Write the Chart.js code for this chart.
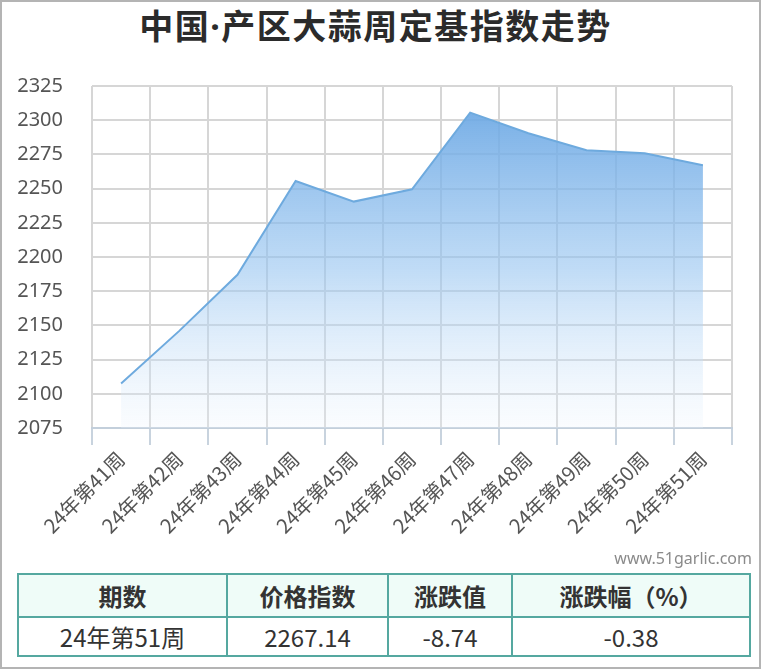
<!DOCTYPE html>
<html><head><meta charset="utf-8">
<script src="https://cdn.jsdelivr.net/npm/chart.js@4.4.1/dist/chart.umd.min.js"></script>
<style>
html,body{margin:0;padding:0;background:#fff;}
#wrap{position:relative;width:761px;height:669px;box-sizing:border-box;border:2px solid #b4b4b4;overflow:hidden;font-family:"Noto Sans CJK SC","Noto Sans",sans-serif;}
#title{position:absolute;left:0;top:-2px;width:747px;text-align:center;font-size:34px;font-weight:bold;letter-spacing:1.5px;color:#2b2b2b;}
#title .dot{font-family:"Noto Sans",sans-serif;}
#cv{position:absolute;left:-2px;top:-2px;}
#wm{position:absolute;right:7px;top:545px;font-size:16px;color:#8a8a8a;font-family:"Noto Sans",sans-serif;}
table{position:absolute;left:15px;top:571px;border-collapse:collapse;}
td{border:2px solid #55a8a0;text-align:center;color:#333;font-size:24px;padding:0;}
tr.h td{background:#effcf8;font-weight:bold;height:41px;}
tr.d td{height:37px;}
</style></head>
<body><div id="wrap">
<div id="title">中国<span class="dot">·</span>产区大蒜周定基指数走势</div>
<canvas id="cv" width="761" height="560"></canvas>
<div id="wm">www.51garlic.com</div>
<table>
<tr class="h"><td style="width:207px">期数</td><td style="width:159px">价格指数</td><td style="width:122px">涨跌值</td><td style="width:236px">涨跌幅（%）</td></tr>
<tr class="d"><td>24年第51周</td><td>2267.14</td><td>-8.74</td><td>-0.38</td></tr>
</table>
</div>
<script>
const weeks = ["24年第41周","24年第42周","24年第43周","24年第44周","24年第45周","24年第46周","24年第47周","24年第48周","24年第49周","24年第50周","24年第51周"];
const indexValues = [2107.5, 2146, 2187, 2255.5, 2240.5, 2249.5, 2305.5, 2290.5, 2278, 2275.88, 2267.14];
const yMin = 2075, yMax = 2325, yStep = 25;

const cv = document.getElementById('cv');
cv.style.width='761px'; cv.style.height='560px';
new Chart(cv, {
  type: 'line',
  data: {
    labels: weeks,
    datasets: [{
      data: indexValues,
      borderColor: '#6eaade',
      borderWidth: 2,
      pointRadius: 0,
      tension: 0,
      fill: 'start',
      backgroundColor: (ctx) => {
        const ca = ctx.chart.chartArea;
        if (!ca) return 'rgba(120,175,230,0.6)';
        const g = ctx.chart.ctx.createLinearGradient(0, ca.top + 25, 0, ca.bottom);
        g.addColorStop(0, 'rgba(108,168,228,0.92)');
        g.addColorStop(0.5, 'rgba(150,196,240,0.6)');
        g.addColorStop(1, 'rgba(235,244,253,0.25)');
        return g;
      }
    }]
  },
  options: {
    responsive: false,
    animation: false,
    devicePixelRatio: 1,
    layout: { padding: { top: 86, right: 29, left: 0, bottom: 12 } },
    plugins: { legend: { display: false }, tooltip: { enabled: false } },
    scales: {
      x: {
        offset: true,
        grid: { offset: true, color: '#d6d6d6', lineWidth: 2, tickColor: '#c8d3de', tickLength: 17 },
        border: { color: '#c3cfdb', width: 2 },
        ticks: { color: '#555', font: { size: 20, family: '"Noto Sans CJK SC"' }, maxRotation: 45, minRotation: 45, padding: 2, autoSkip: false },
        afterFit: (s) => { s.height = 120; }
      },
      y: {
        min: yMin, max: yMax,
        grid: { color: '#d6d6d6', lineWidth: 2, drawTicks: false },
        border: { display: false },
        ticks: { stepSize: yStep, color: '#555', font: { size: 20, family: '"Noto Sans"' }, padding: 29, callback: (v) => String(v) },
        afterFit: (s) => { s.width = 92; }
      }
    }
  }
});
</script>
</body></html>
